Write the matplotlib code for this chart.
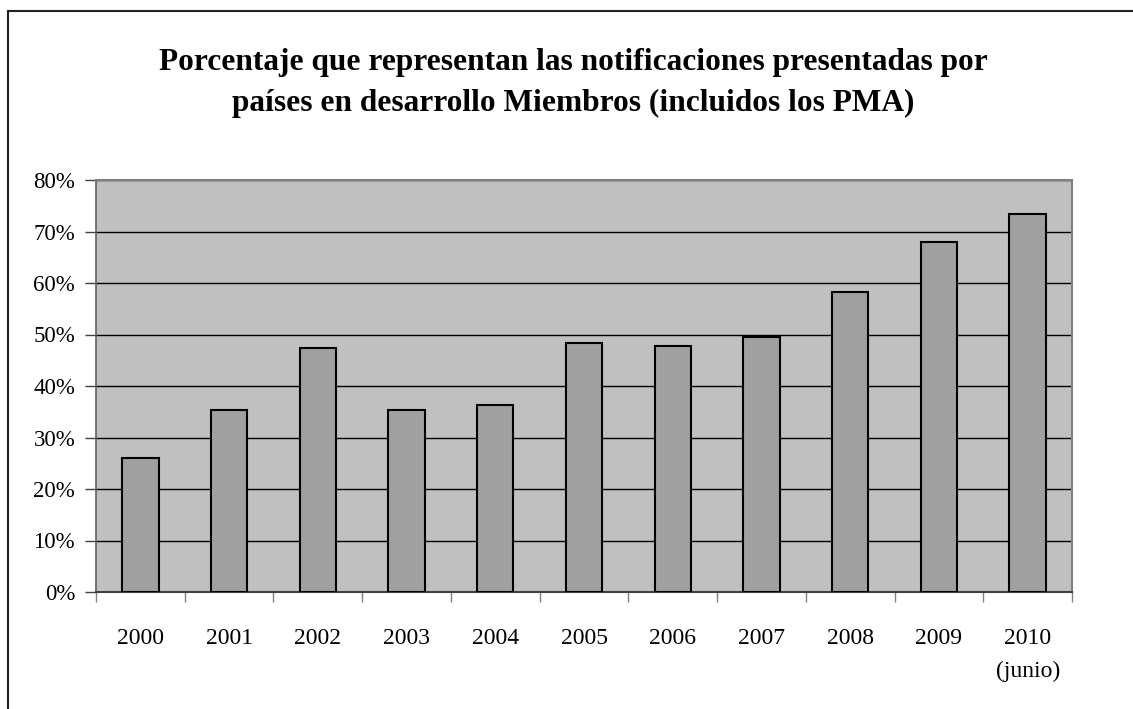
import matplotlib
matplotlib.use("Agg")
import matplotlib.pyplot as plt
from matplotlib.lines import Line2D
from matplotlib.ticker import FuncFormatter, MultipleLocator

categories = ["2000", "2001", "2002", "2003", "2004", "2005", "2006", "2007", "2008", "2009", "2010\n(junio)"]
values = [26.0, 35.3, 47.3, 35.3, 36.4, 48.4, 47.7, 49.6, 58.2, 67.9, 73.4]
title = "Porcentaje que representan las notificaciones presentadas por\npaíses en desarrollo Miembros (incluidos los PMA)"

plt.rcParams['font.family'] = ['Liberation Serif', 'DejaVu Serif']

fig = plt.figure(figsize=(11.33, 7.09), dpi=100)
ax = fig.add_axes([96/1133, 117/709, (1072-96)/1133, (592-180)/709])
ax.set_facecolor("#C0C0C0")

x = list(range(len(categories)))
ax.bar(x, values, width=0.41, color="#A0A0A0", edgecolor="black", linewidth=1.5, zorder=3)

ax.set_xlim(-0.5, len(categories) - 0.5)
ax.set_ylim(0, 80)
ax.yaxis.set_major_locator(MultipleLocator(10))
ax.yaxis.set_major_formatter(FuncFormatter(lambda v, p: f"{int(round(v))}%"))
ax.grid(axis='y', color='black', linewidth=1.0, zorder=1)
ax.set_axisbelow(True)

ax.set_xticks([i - 0.5 for i in range(len(categories) + 1)], minor=False)
ax.set_xticklabels([])
ax.set_xticks(x, minor=True)
ax.set_xticklabels(categories, minor=True, fontsize=17, linespacing=1.75, va='top')
ax.tick_params(axis='x', which='major', direction='out', length=7, color='#808080', width=1)
ax.tick_params(axis='x', which='minor', length=0, pad=26)
ax.tick_params(axis='y', direction='out', length=8, color='#404040', width=1, labelsize=16.5, pad=7)

for s in ['top', 'right']:
    ax.spines[s].set_color('#808080')
    ax.spines[s].set_linewidth(1.5)
ax.spines['left'].set_color('#606060')
ax.spines['bottom'].set_color('#404040')
ax.spines['left'].set_linewidth(1.2)
ax.spines['bottom'].set_linewidth(1.5)

fig.text(573/1133, 1 - 83/709, title, ha='center', va='center', fontsize=22.6,
         fontweight='bold', linespacing=1.55)

# figure border (top and left)
fig.add_artist(Line2D([8/1133, 1], [1 - 11/709, 1 - 11/709], color='#222222', linewidth=1.5, transform=fig.transFigure))
fig.add_artist(Line2D([8/1133, 8/1133], [0, 1 - 11/709], color='#222222', linewidth=1.5, transform=fig.transFigure))

fig.savefig("out.png", dpi=100)
